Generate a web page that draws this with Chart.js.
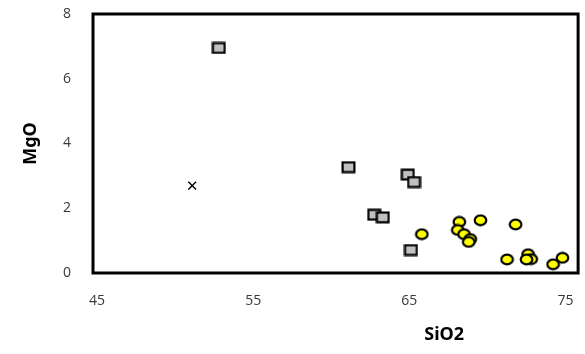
<!DOCTYPE html>
<html>
<head>
<meta charset="utf-8">
<script src="https://cdn.jsdelivr.net/npm/chart.js@4/dist/chart.umd.min.js"></script>
<style>
    html, body { margin: 0; padding: 0; background: #fff; }
    #wrap { width: 585px; height: 354px; }
</style>
</head>
<body>
<div id="wrap"><canvas id="grafico" width="585" height="354"></canvas></div>
<script>
// datos
const cuadrosSiO2 = [52.8, 61.1, 64.9, 65.3, 62.75, 63.3, 65.1];
const cuadrosMgO  = [6.95, 3.27, 3.04, 2.81, 1.80, 1.72, 0.71];

const circulosSiO2 = [65.8, 68.2, 68.1, 68.5, 68.9, 68.8, 69.55, 71.8, 71.25, 72.6, 72.8, 72.5, 74.8, 74.2];
const circulosMgO  = [1.20, 1.58, 1.33, 1.20, 1.05, 0.96, 1.63, 1.50, 0.42, 0.58, 0.43, 0.42, 0.47, 0.27];

const cruzSiO2 = [51.1];
const cruzMgO  = [2.70];

const ticksX = [45, 55, 65, 75];
const ticksY = [0, 2, 4, 6, 8];

function puntos(xs, ys) {
    return xs.map((x, i) => ({ x: x, y: ys[i] }));
}

// marcadores dibujados en un canvas pequeño
function marcador(tipo, relleno) {
    const c = document.createElement('canvas');
    c.width = 15;
    c.height = 13;
    const ctx = c.getContext('2d');
    ctx.fillStyle = relleno;
    ctx.strokeStyle = '#000';
    ctx.lineWidth = 2.2;
    ctx.beginPath();
    if (tipo === 'rect') {
        ctx.rect(1.6, 1.6, 11.8, 9.8);
    } else {
        ctx.ellipse(7.5, 6.5, 5.8, 4.9, 0, 0, Math.PI * 2);
    }
    ctx.fill();
    ctx.stroke();
    return c;
}

// marco negro y titulo del eje X
const marco = {
    id: 'marco',
    afterDraw(chart) {
        const a = chart.chartArea;
        const ctx = chart.ctx;
        ctx.save();
        ctx.strokeStyle = '#000';
        ctx.lineWidth = 3;
        ctx.strokeRect(a.left, a.top, a.right - a.left, a.bottom - a.top);
        ctx.fillStyle = '#000';
        ctx.font = 'bold 18px "Noto Sans"';
        ctx.textAlign = 'center';
        ctx.textBaseline = 'middle';
        ctx.fillText('SiO2', a.left + (a.right - a.left) * 0.724, 335);
        ctx.restore();
    }
};

new Chart(document.getElementById('grafico'), {
    type: 'scatter',
    data: {
        datasets: [{
            label: 'cuadros',
            data: puntos(cuadrosSiO2, cuadrosMgO),
            pointStyle: marcador('rect', '#c0c0c0'),
            order: 2
        }, {
            label: 'circulos',
            data: puntos(circulosSiO2, circulosMgO),
            pointStyle: marcador('circle', '#ffff00'),
            order: 1
        }, {
            label: 'x',
            data: puntos(cruzSiO2, cruzMgO),
            pointStyle: 'crossRot',
            pointRadius: 5.5,
            borderColor: '#000',
            borderWidth: 1.4,
            order: 3
        }]
    },
    options: {
        responsive: false,
        animation: false,
        layout: { padding: { left: 0, right: 2, top: 14, bottom: 0 } },
        plugins: {
            legend: { display: false },
            tooltip: { enabled: false }
        },
        scales: {
            x: {
                type: 'linear',
                min: 44.75,
                max: 75.8,
                afterBuildTicks: s => { s.ticks = ticksX.map(v => ({ value: v })); },
                afterFit: s => {
                    s.height = 81;
                    s.paddingLeft = 0;
                    s.paddingRight = 0;
                },
                grid: { display: false, drawTicks: false },
                border: { display: false },
                ticks: {
                    padding: 20,
                    color: '#383838',
                    font: { family: '"Open Sans"', size: 14 }
                }
            },
            y: {
                min: 0,
                max: 8,
                afterBuildTicks: s => { s.ticks = ticksY.map(v => ({ value: v })); },
                afterFit: s => {
                    s.width = 93;
                    s.paddingTop = 0;
                    s.paddingBottom = 0;
                },
                grid: { display: false, drawTicks: false },
                border: { display: false },
                ticks: {
                    padding: 22,
                    color: '#383838',
                    font: { family: '"Open Sans"', size: 14 }
                },
                title: {
                    display: true,
                    text: 'MgO',
                    color: '#000',
                    padding: { top: 20, bottom: 0 },
                    font: { family: '"Noto Sans"', size: 18, weight: 'bold' }
                }
            }
        }
    },
    plugins: [marco]
});
</script>
</body>
</html>
